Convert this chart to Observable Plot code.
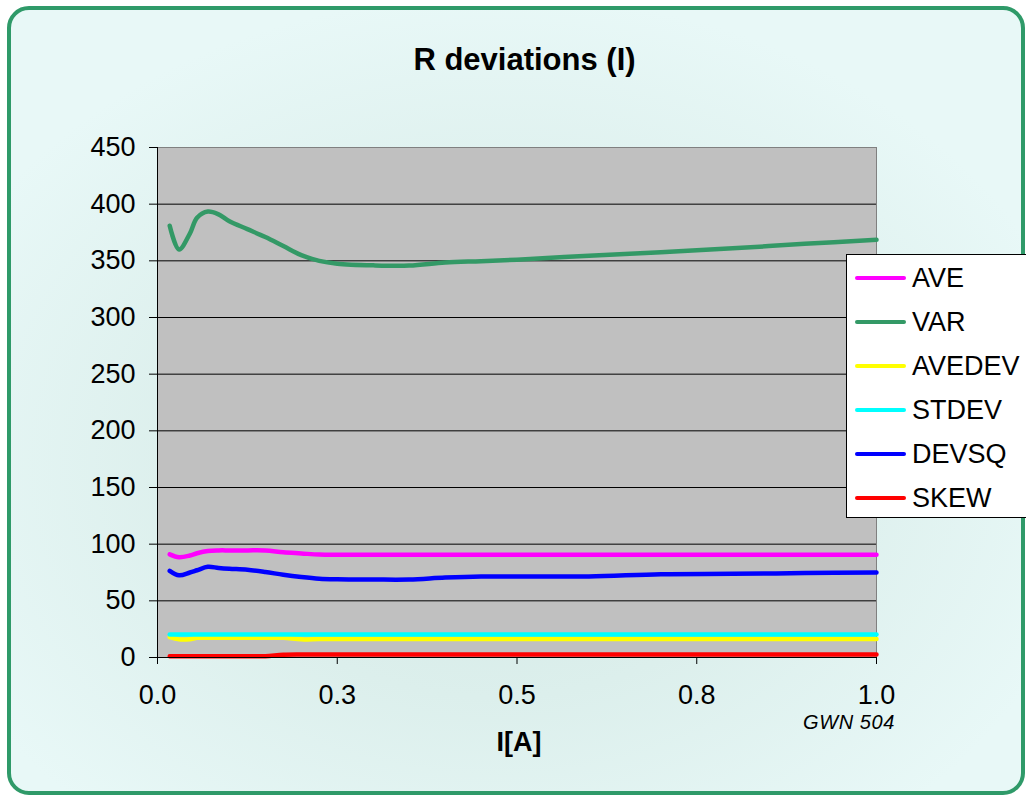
<!DOCTYPE html>
<html>
<head>
<meta charset="utf-8">
<script src="https://cdn.jsdelivr.net/npm/d3@7"></script>
<script src="https://cdn.jsdelivr.net/npm/@observablehq/plot@0.6"></script>
<style>
  html, body { margin: 0; padding: 0; background: #ffffff; overflow: hidden; }
  #page { position: relative; width: 1026px; height: 795px; overflow: hidden; font-family: "Liberation Sans", Arial, sans-serif; }
  #bgframe { position: absolute; left: 7px; top: 6px; width: 1018px; height: 789px; box-sizing: border-box;
    border: 4px solid #2f9a69; border-radius: 22px;
    background: radial-gradient(ellipse 60% 60% at 48% 58%, #d2e8e5 0%, #dcefec 50%, #e8f8f7 100%); }
  #chart { position: absolute; left: 0; top: 0; }
  .txt { position: absolute; color: #000; white-space: nowrap; }
  #title { left: 0; width: 1049px; text-align: center; top: 42px; font-size: 31px; font-weight: bold; }
  #xlabel { left: 0; width: 1038px; text-align: center; top: 727px; font-size: 27px; font-weight: bold; }
  #note { left: 803px; top: 714px; font-size: 20px; line-height: 0.8; font-style: italic; letter-spacing: 0.6px; }
  #legend { position: absolute; left: 846px; top: 254px; width: 200px; height: 264px; box-sizing: border-box;
    background: #fff; border: 1px solid #000; }
  .item { position: absolute; left: 0; height: 30px; font-size: 27px; line-height: 30px; }
  .sw { position: absolute; left: 8px; top: 13px; width: 51px; height: 4px; border-radius: 2px; }
  .lab { position: absolute; left: 65px; top: 0; }
</style>
</head>
<body>
<div id="page">
  <div id="bgframe"></div>
  <div id="chart"></div>
  <div class="txt" id="title">R deviations (I)</div>
  <div class="txt" id="note">GWN 504</div>
  <div class="txt" id="xlabel">I[A]</div>
  <div id="legend"></div>
</div>
<script>
// ---- data ----
const current = [0.017, 0.03, 0.045, 0.055, 0.07, 0.085, 0.1, 0.125, 0.15, 0.175, 0.2, 0.225, 0.25, 0.3, 0.35, 0.4, 0.45, 0.5, 0.6, 0.7, 0.8, 0.9, 1.0];
const seriesNames = ["AVE", "VAR", "AVEDEV", "STDEV", "DEVSQ", "SKEW"];
const seriesColors = ["#ff00ff", "#339966", "#ffff00", "#00ffff", "#0000ff", "#ff0000"];
const AVE    = [91, 88.5, 90, 92, 94, 94.5, 94.5, 94.5, 94.4, 92.8, 91.8, 90.8, 90.6, 90.6, 90.6, 90.6, 90.6, 90.6, 90.6, 90.6, 90.6, 90.6, 90.6];
const VAR    = [381, 360, 374, 388, 393.5, 391, 385, 378, 371, 363, 355, 350, 347.5, 346, 345.8, 348.5, 349.7, 351, 354.5, 357.5, 361, 365, 368.5];
const AVEDEV = [18, 16, 16.2, 17.4, 17.4, 17.4, 17.4, 17.4, 17.4, 17.4, 16, 16.3, 16.3, 16.3, 16.3, 16.3, 16.3, 16.3, 16.3, 16.3, 16.3, 16.3, 16.3];
const STDEV  = [20.3, 20.3, 20.3, 20.3, 20.3, 20.3, 20.3, 20.3, 20.3, 20.3, 20.3, 20.3, 20.3, 20.3, 20.3, 20.3, 20.3, 20.3, 20.3, 20.3, 20.3, 20.3, 20.3];
const DEVSQ  = [76.5, 72.5, 75, 77, 80, 79, 78.3, 77.5, 75.5, 73, 71, 69.5, 69, 68.8, 68.8, 70.5, 71.5, 71.5, 71.5, 73.5, 73.8, 74.5, 75];
const SKEW   = [1.0, 1.0, 1.0, 1.0, 1.0, 1.0, 1.0, 1.1, 1.2, 2.4, 2.6, 2.6, 2.6, 2.6, 2.6, 2.6, 2.6, 2.6, 2.6, 2.6, 2.6, 2.6, 2.6];
const yTicks = [0, 50, 100, 150, 200, 250, 300, 350, 400, 450];
const xTicks = [0, 0.25, 0.5, 0.75, 1.0];
const xTickLabels = ["0.0", "0.3", "0.5", "0.8", "1.0"];

const seriesValues = [AVE, VAR, AVEDEV, STDEV, DEVSQ, SKEW];
const rows = [];
seriesNames.forEach((name, s) => {
  current.forEach((x, i) => rows.push({series: name, x, y: seriesValues[s][i]}));
});

const chart = Plot.plot({
  width: 1026,
  height: 795,
  marginLeft: 157,
  marginRight: 150,
  marginTop: 147,
  marginBottom: 138,
  style: {background: "transparent", fontFamily: "'Liberation Sans', Arial, sans-serif", color: "#000"},
  x: {domain: [0, 1]},
  y: {domain: [0, 450]},
  color: {domain: seriesNames, range: seriesColors},
  marks: [
    Plot.frame({fill: "#c0c0c0", stroke: "#808080"}),
    Plot.ruleY(yTicks.filter(d => d > 0 && d < 450), {stroke: "#000", strokeWidth: 1}),
    Plot.line(rows, {x: "x", y: "y", z: "series", stroke: "series", strokeWidth: 4.5, curve: "catmull-rom"}),
    Plot.ruleX([0], {stroke: "#000", strokeWidth: 1}),
    Plot.ruleY([0], {stroke: "#000", strokeWidth: 1}),
    Plot.axisY({ticks: yTicks, tickSize: 8, tickPadding: 14, fontSize: 27, label: null, stroke: "#000"}),
    Plot.axisX({ticks: xTicks, tickSize: 7, tickPadding: 20, fontSize: 27, label: null,
      tickFormat: d => xTickLabels[xTicks.indexOf(d)]})
  ]
});
document.getElementById("chart").appendChild(chart);

// legend
const leg = document.getElementById("legend");
seriesNames.forEach((name, i) => {
  const it = document.createElement("div");
  it.className = "item";
  it.style.top = (8 + i * 43.9) + "px";
  it.innerHTML = `<span class="sw" style="background:${seriesColors[i]}"></span><span class="lab">${name}</span>`;
  leg.appendChild(it);
});
</script>
</body>
</html>
